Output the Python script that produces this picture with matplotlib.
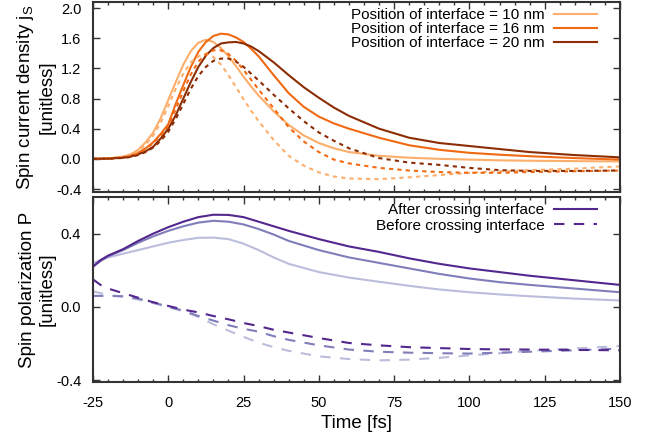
import matplotlib
matplotlib.use("Agg")
import matplotlib.pyplot as plt
from matplotlib.ticker import MultipleLocator

plt.rcParams['font.family'] = ['Liberation Sans', 'DejaVu Sans']
plt.rcParams['mathtext.fontset'] = 'custom'
plt.rcParams['mathtext.rm'] = 'Liberation Sans'
plt.rcParams['mathtext.it'] = 'Liberation Sans:italic'
plt.rcParams['axes.unicode_minus'] = False

# ---- data ----
t_top = [-25, -20, -15, -12.5, -10, -7.5, -5, -2.5, 0, 2.5, 5, 7.5, 10, 12.5, 15, 17.5,
         20, 22.5, 25, 27.5, 30, 35, 40, 45, 50, 55, 60, 70, 80, 90, 100, 110, 120, 135, 150]

js_10_after = [0, 0.005, 0.03, 0.06, 0.12, 0.22, 0.35, 0.54, 0.78, 1.02, 1.25, 1.43, 1.54, 1.58,
               1.55, 1.47, 1.36, 1.23, 1.09, 0.96, 0.84, 0.63, 0.45, 0.31, 0.21, 0.14, 0.09, 0.04,
               0.015, 0.0, -0.01, -0.02, -0.025, -0.03, -0.035]
js_16_after = [0, 0.004, 0.02, 0.04, 0.08, 0.14, 0.22, 0.33, 0.46, 0.73, 0.98, 1.22, 1.42, 1.55,
               1.63, 1.66, 1.65, 1.61, 1.55, 1.46, 1.36, 1.11, 0.87, 0.69, 0.56, 0.47, 0.40, 0.28,
               0.18, 0.12, 0.08, 0.055, 0.035, 0.01, -0.01]
js_20_after = [0, 0.003, 0.015, 0.03, 0.06, 0.10, 0.16, 0.27, 0.40, 0.58, 0.80, 1.02, 1.22, 1.37,
               1.47, 1.53, 1.545, 1.55, 1.53, 1.49, 1.43, 1.28, 1.11, 0.95, 0.81, 0.68, 0.57, 0.40,
               0.28, 0.21, 0.17, 0.13, 0.09, 0.05, 0.02]
js_10_before = [0, 0.004, 0.025, 0.05, 0.10, 0.19, 0.31, 0.48, 0.70, 0.93, 1.13, 1.28, 1.36, 1.39,
                1.35, 1.25, 1.11, 0.95, 0.79, 0.64, 0.50, 0.25, 0.04, -0.09, -0.18, -0.235, -0.26,
                -0.27, -0.245, -0.215, -0.185, -0.165, -0.15, -0.13, -0.10]
js_16_before = [0, 0.003, 0.018, 0.035, 0.07, 0.13, 0.21, 0.31, 0.44, 0.66, 0.90, 1.12, 1.29, 1.39,
                1.44, 1.44, 1.39, 1.30, 1.18, 1.05, 0.92, 0.67, 0.42, 0.23, 0.09, -0.01, -0.06,
                -0.12, -0.155, -0.175, -0.185, -0.185, -0.175, -0.165, -0.155]
js_20_before = [0, 0.002, 0.012, 0.025, 0.05, 0.09, 0.15, 0.24, 0.36, 0.53, 0.73, 0.93, 1.10, 1.22,
                1.30, 1.33, 1.33, 1.29, 1.22, 1.13, 1.04, 0.85, 0.67, 0.50, 0.35, 0.24, 0.14, 0.01,
                -0.05, -0.08, -0.12, -0.15, -0.16, -0.16, -0.155]

t_bot = [-25, -22.5, -20, -15, -10, -5, 0, 5, 10, 15, 20, 25, 30, 35, 40, 50, 60, 70, 80, 90,
         100, 110, 120, 135, 150]

p_20_after = [0.22, 0.255, 0.28, 0.315, 0.36, 0.40, 0.435, 0.465, 0.49, 0.503, 0.502, 0.49, 0.465,
              0.44, 0.415, 0.37, 0.33, 0.30, 0.265, 0.235, 0.21, 0.19, 0.17, 0.145, 0.12]
p_16_after = [0.22, 0.25, 0.275, 0.31, 0.35, 0.385, 0.415, 0.44, 0.46, 0.47, 0.465, 0.45, 0.425,
              0.395, 0.36, 0.31, 0.27, 0.24, 0.21, 0.18, 0.155, 0.135, 0.12, 0.10, 0.08]
p_10_after = [0.24, 0.255, 0.27, 0.29, 0.31, 0.33, 0.35, 0.365, 0.377, 0.378, 0.37, 0.345, 0.31,
              0.27, 0.235, 0.19, 0.16, 0.137, 0.115, 0.095, 0.08, 0.068, 0.058, 0.045, 0.035]
p_20_before = [0.15, 0.12, 0.10, 0.075, 0.05, 0.025, 0.005, -0.015, -0.03, -0.05, -0.068, -0.088,
               -0.105, -0.125, -0.14, -0.17, -0.197, -0.21, -0.22, -0.225, -0.23, -0.232, -0.233,
               -0.235, -0.237]
p_16_before = [0.06, 0.06, 0.06, 0.058, 0.045, 0.025, 0.0, -0.02, -0.05, -0.075, -0.10, -0.12,
               -0.135, -0.16, -0.18, -0.21, -0.233, -0.245, -0.25, -0.253, -0.255, -0.25, -0.245,
               -0.237, -0.228]
p_10_before = [0.085, 0.075, 0.065, 0.055, 0.04, 0.02, 0.0, -0.025, -0.055, -0.095, -0.13, -0.164,
               -0.195, -0.22, -0.24, -0.27, -0.285, -0.292, -0.288, -0.278, -0.265, -0.253, -0.24,
               -0.227, -0.214]

oranges = ['#fdae6b', '#f16913', '#8c2d04']
purples = ['#bcbddc', '#807dba', '#54278f']
lw = 1.5

fig = plt.figure(figsize=(6.53, 4.38), dpi=100)
ax1 = fig.add_axes([0.1424, 0.5616, 0.807, 0.4338])
ax2 = fig.add_axes([0.1424, 0.1279, 0.807, 0.4224])

labels_top = ['Position of interface = 10 nm', 'Position of interface = 16 nm',
              'Position of interface = 20 nm']
for c, y, lab in zip(oranges, [js_10_after, js_16_after, js_20_after], labels_top):
    ax1.plot(t_top, y, color=c, lw=lw, label=lab)
for c, y in zip(oranges, [js_10_before, js_16_before, js_20_before]):
    ax1.plot(t_top, y, color=c, lw=lw, dashes=(2, 2))

for c, y in zip(purples, [p_10_after, p_16_after, p_20_after]):
    ax2.plot(t_bot, y, color=c, lw=lw)
for c, y in zip(purples, [p_10_before, p_16_before, p_20_before]):
    ax2.plot(t_bot, y, color=c, lw=lw, dashes=(5, 4.5))
ax2.plot([], [], color=purples[2], lw=lw, label='After crossing interface')
ax2.plot([], [], color=purples[2], lw=lw, dashes=(5, 4.5), label='Before crossing interface')

ax1.set_ylim(-0.44, 2.08)
ax2.set_ylim(-0.41, 0.60)
ax1.yaxis.set_major_locator(MultipleLocator(0.4))
ax2.yaxis.set_major_locator(MultipleLocator(0.4))
ax1.yaxis.set_major_formatter(plt.FormatStrFormatter('%.1f'))
ax2.yaxis.set_major_formatter(plt.FormatStrFormatter('%.1f'))

for ax, sp in ((ax1, 0.0), (ax2, 0.1)):
    ax.set_xlim(-25, 150)
    ax.xaxis.set_major_locator(MultipleLocator(25))
    ax.xaxis.set_minor_locator(MultipleLocator(5))
    ax.tick_params(which='both', direction='in', top=True, right=True, labelsize=10.5,
                   color='#333333', width=1)
    ax.tick_params(which='major', length=5)
    ax.tick_params(which='minor', length=2.5)
    ax.tick_params(axis='y', pad=8.5)
    ax.tick_params(axis='x', pad=10)
    for s in ax.spines.values():
        s.set_linewidth(1.5)
        s.set_color('#333333')
    ax.legend(loc='upper right', bbox_to_anchor=(0.968, 1.0), frameon=False, markerfirst=False,
              fontsize=11, handlelength=2.8, labelspacing=sp, borderaxespad=0,
              handletextpad=0.65)

ax1.tick_params(axis='x', labelbottom=False)
ax1.set_ylabel('Spin current density $\\mathrm{j_S}$\n[unitless]', fontsize=13.5, linespacing=1.25)
ax2.set_ylabel('Spin polarization P\n[unitless]', fontsize=13.5, linespacing=1.25)
ax1.yaxis.set_label_coords(-0.07, 0.5)
ax2.yaxis.set_label_coords(-0.07, 0.5)
ax2.set_xlabel('Time [fs]', fontsize=13.5, labelpad=4)

fig.savefig('out.png', dpi=100)
